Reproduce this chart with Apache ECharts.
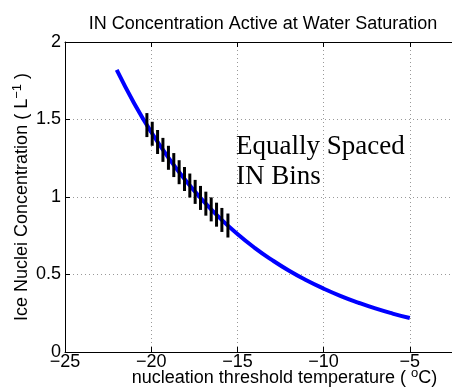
<!DOCTYPE html>
<html><head><meta charset="utf-8">
<script src="https://cdn.jsdelivr.net/npm/echarts@6/dist/echarts.min.js"></script>
<style>html,body{margin:0;padding:0;background:#fff}#c{width:452px;height:391px}</style>
</head><body><div id="c"></div>
<script>
// curve: nucleation threshold temperature (°C) vs IN concentration (L^-1)
const curveT = [-22, -21, -20, -19, -18, -17, -16, -15, -14, -13, -12, -11, -10, -9, -8, -7, -6, -5];
const curveN = [1.82, 1.607, 1.419, 1.253, 1.106, 0.977, 0.862, 0.761, 0.672, 0.594, 0.524, 0.463, 0.409, 0.361, 0.319, 0.281, 0.248, 0.219];
// equally spaced IN bins (marks on the curve)
const binT = [-20.25, -19.94, -19.63, -19.32, -19.00, -18.69, -18.38, -18.07, -17.76, -17.45, -17.14, -16.83, -16.52, -16.21, -15.90, -15.55];
const binN = [1.464, 1.408, 1.355, 1.304, 1.253, 1.206, 1.160, 1.116, 1.074, 1.033, 0.994, 0.957, 0.920, 0.886, 0.852, 0.816];
const xTicks = [-25, -20, -15, -10, -5, 0];
const yTicks = [0, 0.5, 1, 1.5, 2];

const chart = echarts.init(document.getElementById('c'));
const font = '"Liberation Sans", Arial, Helvetica, sans-serif';
const fmt = v => String(v).replace('-', '\u2212');
const xMin = xTicks[0], xMax = xTicks[xTicks.length - 1];
chart.setOption({
  animation: false,
  title: {
    text: 'IN Concentration Active at Water Saturation',
    left: 258, top: 10, textAlign: 'center',
    textStyle: {fontFamily: font, fontSize: 18, fontWeight: 'normal', color: '#000'}
  },
  grid: {left: 65, right: -44, top: 42, bottom: 39, containLabel: false, outerBoundsMode: 'none'},
  xAxis: [{
    type: 'value', min: xMin, max: xMax, interval: 5,
    axisLine: {onZero: false, lineStyle: {color: '#000', width: 1}},
    axisTick: {inside: true, length: 5, lineStyle: {color: '#000'}},
    axisLabel: {formatter: fmt, color: '#000', fontFamily: font, fontSize: 18, margin: 1},
    splitLine: {show: true, lineStyle: {type: [1, 3], color: '#999', width: 1}},
    name: 'nucleation threshold temperature ( {sup|o}C)',
    nameLocation: 'middle', nameGap: 15, nameMoveOverlap: false,
    nameTextStyle: {fontFamily: font, fontSize: 18, color: '#000', padding: [0, 0, 0, 8],
      rich: {sup: {fontFamily: font, fontSize: 13, color: '#000', padding: [0, 0, 9, 0]}}}
  }, {
    type: 'value', position: 'top', min: xMin, max: xMax, interval: 5,
    axisLine: {show: true, onZero: false, lineStyle: {color: '#000', width: 1}},
    axisTick: {show: true, inside: true, length: 5, lineStyle: {color: '#000'}},
    axisLabel: {show: false}, splitLine: {show: false}
  }],
  yAxis: {
    type: 'value', min: yTicks[0], max: yTicks[yTicks.length - 1], interval: 0.5,
    axisLine: {show: true, onZero: false, lineStyle: {color: '#000', width: 1}},
    axisTick: {show: true, inside: true, length: 5, lineStyle: {color: '#000'}},
    axisLabel: {color: '#000', fontFamily: font, fontSize: 18, margin: 4},
    splitLine: {show: true, lineStyle: {type: [1, 3], color: '#999', width: 1}},
    name: 'Ice Nuclei Concentration ( L{sup|\u22121} )',
    nameLocation: 'middle', nameGap: 32, nameRotate: 90, nameMoveOverlap: false,
    nameTextStyle: {fontFamily: font, fontSize: 18, color: '#000',
      rich: {sup: {fontFamily: font, fontSize: 13, color: '#000', padding: [0, 0, 9, 0]}}}
  },
  graphic: [
    {type: 'text', left: 236, top: 132, style: {text: 'Equally Spaced\nIN Bins', font: '27px "Liberation Serif", "DejaVu Serif", serif', fill: '#000', lineHeight: 30}}
  ],
  series: [
    {type: 'line', data: curveT.map((t, i) => [t, curveN[i]]), smooth: true, showSymbol: false,
     lineStyle: {color: '#0000ff', width: 4}, z: 2},
    {type: 'scatter', data: binT.map((t, i) => [t, binN[i]]), symbol: 'rect', symbolSize: [3, 24],
     itemStyle: {color: '#000', opacity: 1}, z: 3}
  ]
});
</script></body></html>
